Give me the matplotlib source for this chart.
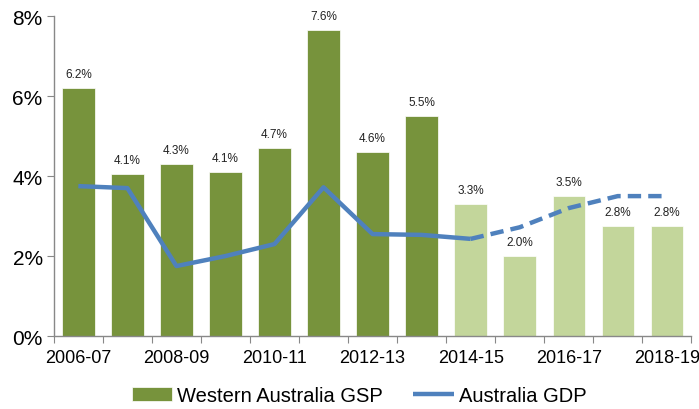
import numpy as np
import matplotlib
matplotlib.use('Agg')
import matplotlib.pyplot as plt
from matplotlib.ticker import FixedLocator, NullFormatter

plt.rcParams['font.family'] = ['Liberation Sans', 'DejaVu Sans']

years = ["2006-07", "2007-08", "2008-09", "2009-10", "2010-11", "2011-12", "2012-13",
         "2013-14", "2014-15", "2015-16", "2016-17", "2017-18", "2018-19"]
wa_gsp = [6.2, 4.05, 4.3, 4.1, 4.7, 7.65, 4.6, 5.5, 3.3, 2.0, 3.5, 2.75, 2.75]
gsp_labels = ["6.2%", "4.1%", "4.3%", "4.1%", "4.7%", "7.6%", "4.6%", "5.5%",
              "3.3%", "2.0%", "3.5%", "2.8%", "2.8%"]
aus_gdp = [3.75, 3.7, 1.75, 2.0, 2.3, 3.72, 2.55, 2.53, 2.43, 2.72, 3.2, 3.5, 3.5]
n_actual = 9  # actuals up to 2014-15, projections after

dark_green = '#77933C'
light_green = '#C3D69B'
blue = '#4F81BD'

fig = plt.figure(figsize=(6.99, 4.10), dpi=100)
ax = fig.add_axes([0.077, 0.178, 0.912, 0.78])

x = np.arange(len(years))
colors = [dark_green if i < n_actual - 1 else light_green for i in x]
bars = ax.bar(x, wa_gsp, width=0.66, color=colors, edgecolor='white', linewidth=0.5)
bars[0].set_label('Western Australia GSP')

for xi, v, lab in zip(x, wa_gsp, gsp_labels):
    ax.annotate(lab, (xi, v), xytext=(0, 6), textcoords='offset points',
                ha='center', va='bottom', fontsize=8.5, color='#222222')

ax.plot(x[:n_actual], aus_gdp[:n_actual], color=blue, linewidth=3.2,
        solid_capstyle='butt', label='Australia GDP')
ax.plot(x[n_actual - 1:], aus_gdp[n_actual - 1:], color=blue, linewidth=3.2,
        linestyle=(0, (3, 1.6)), dash_capstyle='butt')

ax.set_xlim(-0.5, len(years) - 0.5)
ax.set_ylim(0, 8)
ax.set_yticks([0, 2, 4, 6, 8])
ax.set_yticklabels(['0%', '2%', '4%', '6%', '8%'], fontsize=15)

ax.xaxis.set_major_locator(FixedLocator(np.arange(-0.5, len(years), 1.0)))
ax.xaxis.set_major_formatter(NullFormatter())
ax.xaxis.set_minor_locator(FixedLocator(x[::2]))
ax.set_xticklabels(years[::2], minor=True, fontsize=13)
ax.tick_params(axis='x', which='major', direction='out', length=5, color='#888888')
ax.tick_params(axis='x', which='minor', length=0, pad=9)
ax.tick_params(axis='y', direction='out', length=5, color='#888888', pad=3)

for s in ['top', 'right']:
    ax.spines[s].set_visible(False)
for s in ['left', 'bottom']:
    ax.spines[s].set_color('#888888')
    ax.spines[s].set_linewidth(1)

fig.legend(loc='lower center', bbox_to_anchor=(0.514, -0.035), ncol=2, frameon=False,
           fontsize=14.5, handlelength=2.0, columnspacing=1.5, handletextpad=0.25)

plt.savefig('out.png', dpi=100)
